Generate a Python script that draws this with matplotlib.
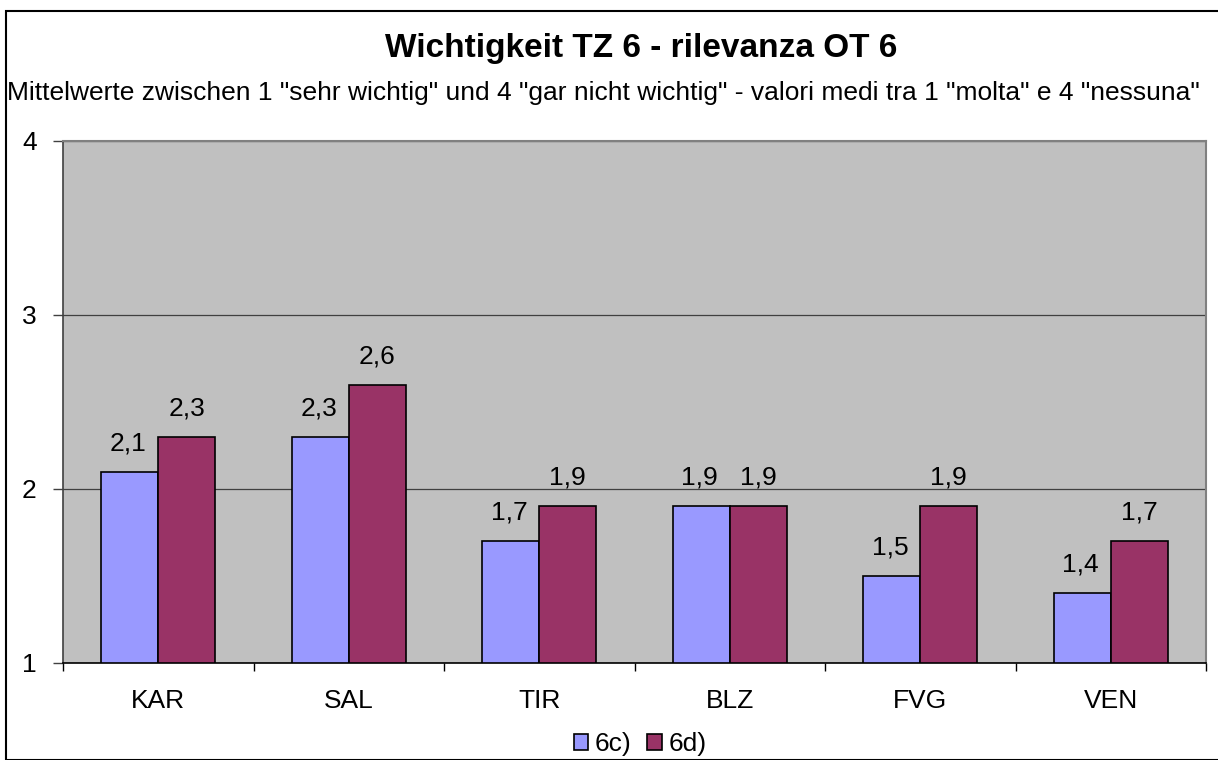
import matplotlib
matplotlib.use("Agg")
import matplotlib.pyplot as plt
from matplotlib.patches import Rectangle
from matplotlib.ticker import FixedLocator, NullFormatter
import numpy as np

plt.rcParams['font.family'] = ['Liberation Sans', 'DejaVu Sans']

categories = ["KAR", "SAL", "TIR", "BLZ", "FVG", "VEN"]
series_6c = [2.1, 2.3, 1.7, 1.9, 1.5, 1.4]
series_6d = [2.3, 2.6, 1.9, 1.9, 1.9, 1.7]
series_names = ["6c)", "6d)"]
yticks = [1, 2, 3, 4]

W, H = 1218, 760
fig = plt.figure(figsize=(W / 100, H / 100), dpi=100)

# outer frame
fig.patches.append(Rectangle((6 / W, 0), 1.2, (H - 11) / H, transform=fig.transFigure,
                             fill=False, edgecolor="black", linewidth=1.5, zorder=0))

left, right, top, bottom = 63, 1206, 141, 663
ax = fig.add_axes([left / W, 1 - bottom / H, (right - left) / W, (bottom - top) / H])
ax.set_facecolor("#C0C0C0")

x = np.arange(len(categories))
bw = 0.3
b1 = ax.bar(x - bw / 2, [v - 1 for v in series_6c], bw, bottom=1, color="#9999FF",
            edgecolor="black", linewidth=1.2, label=series_names[0], zorder=3)
b2 = ax.bar(x + bw / 2, [v - 1 for v in series_6d], bw, bottom=1, color="#993366",
            edgecolor="black", linewidth=1.2, label=series_names[1], zorder=3)

fs = 19
for xi, v in zip(x - bw / 2, series_6c):
    ax.annotate(f"{v:.1f}".replace(".", ","), (xi, v), xytext=(-1, 20.5), textcoords="offset points",
                ha="center", va="center", fontsize=fs)
for xi, v in zip(x + bw / 2, series_6d):
    ax.annotate(f"{v:.1f}".replace(".", ","), (xi, v), xytext=(0, 20.5), textcoords="offset points",
                ha="center", va="center", fontsize=fs)

ax.set_xlim(-0.5, len(categories) - 0.5)
ax.set_ylim(1, 4)
ax.set_yticks(yticks)
ax.set_yticklabels([str(t) for t in yticks], fontsize=fs)
ax.yaxis.grid(True, color="#404040", linewidth=0.9, zorder=1)
ax.set_axisbelow(True)

ax.xaxis.set_major_locator(FixedLocator(np.arange(-0.5, len(categories), 1.0)))
ax.xaxis.set_major_formatter(NullFormatter())
ax.xaxis.set_minor_locator(FixedLocator(x))
ax.set_xticklabels(categories, minor=True, fontsize=fs)
ax.tick_params(axis="x", which="minor", length=0, pad=19)
ax.tick_params(axis="x", which="major", length=6, width=1, color="black", direction="out")
ax.tick_params(axis="y", length=7, width=1, color="#404040", pad=12)

for s in ["top", "right"]:
    ax.spines[s].set_color("#808080")
    ax.spines[s].set_linewidth(1.5)
ax.spines["left"].set_color("#404040")
ax.spines["left"].set_linewidth(1.2)
ax.spines["bottom"].set_color("black")
ax.spines["bottom"].set_linewidth(1.2)

fig.text(641 / W, 1 - 48 / H, "Wichtigkeit TZ 6 - rilevanza OT 6", ha="center", va="center",
         fontsize=24, fontweight="bold")
fig.text(603 / W, 1 - 93 / H,
         'Mittelwerte zwischen 1 "sehr wichtig" und 4 "gar nicht wichtig" - valori medi tra 1 "molta" e 4 "nessuna"',
         ha="center", va="center", fontsize=19)

fig.legend(handles=[b1, b2], labels=series_names, loc="center", bbox_to_anchor=(640 / W, 1 - 744 / H),
           ncol=2, frameon=False, fontsize=fs, handlelength=0.55, handleheight=0.55,
           handletextpad=0.25, columnspacing=0.6)

fig.savefig("out.png", dpi=100)
